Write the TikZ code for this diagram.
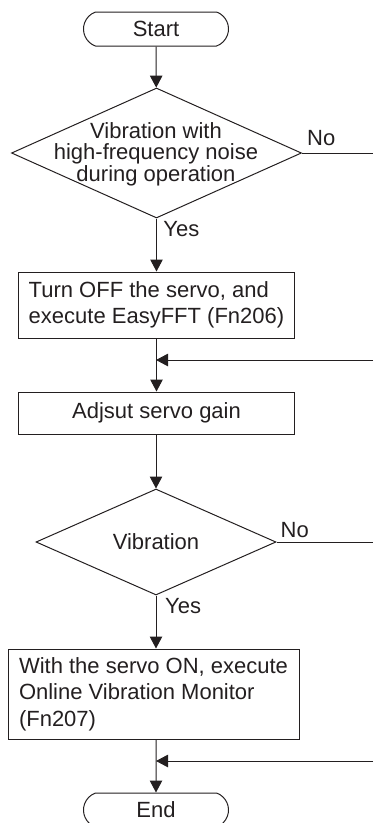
\documentclass[tikz,border=0pt]{standalone}
\usepackage{fontspec}
\setmainfont{Liberation Sans}
\usetikzlibrary{arrows.meta,calc,positioning}
\usetikzlibrary{shapes.geometric,shapes.misc}
\definecolor{ink}{RGB}{35,31,32}

\begin{document}
\begin{tikzpicture}[x=1pt,y=1pt,
every node/.style={font=\fontsize{22}{26}\selectfont,text=ink,inner sep=0pt},
terminal/.style={rounded rectangle,rounded rectangle arc length=140,draw=ink,line width=1pt,minimum width=145pt,minimum height=34pt},
process/.style={rectangle,draw=ink,line width=1pt,align=left},
decision/.style={diamond,shape aspect=2.26,draw=ink,line width=1pt},
flowarrow/.style={draw=ink,line width=1pt,-{Triangle[length=12pt,width=12.5pt]}},
flowline/.style={draw=ink,line width=1pt}]
\useasboundingbox (0,0) rectangle (373,-823);
\clip (0,0) rectangle (373,-823);
% blocks
\node[terminal] (start) at (156,-29) {Start};
\node[decision,minimum width=290pt,minimum height=130pt] (d1) at (156.5,-153) {};
\node[align=center,font=\fontsize{22}{21.5}\selectfont] (d1txt) at (156,-154) {Vibration with\\high-frequency noise\\during operation};
\node[process,minimum width=276pt,minimum height=66pt] (b1) at (156.5,-305) {Turn OFF the servo, and\\execute EasyFFT (Fn206)};
\node[process,minimum width=276pt,minimum height=42pt] (b2) at (156.5,-413) {Adjsut servo gain};
\node[decision,minimum width=240pt,minimum height=106pt] (d2) at (156,-542) {Vibration};
\node[process,minimum width=291pt,minimum height=90pt,font=\fontsize{22}{26.5}\selectfont] (b3) at (153.5,-694) {With the servo ON, execute\\Online Vibration Monitor\\(Fn207)};
\node[terminal] (stop) at (156,-810) {End};
% yes / no
\node[anchor=base west] (no1) at ($(d1.east)+(5,7.6)$) {No};
\node[anchor=base west] (yes1) at ($(d1.south)+(6.7,-18)$) {Yes};
\node[anchor=base west] (no2) at ($(d2.east)+(4,5)$) {No};
\node[anchor=base west] (yes2) at ($(d2.south)+(9,-17.7)$) {Yes};
% loose ends on the right
\coordinate (n1) at (373,-153);
\coordinate (n2) at (373,-542);
\coordinate (r1) at (373,-360);
\coordinate (j1) at (156,-360);
\coordinate (r2) at (373,-761);
\coordinate (j2) at (156,-761);
% connectors
\draw[flowarrow] (start) -- (d1);
\draw[flowarrow] (d1) -- (b1);
\draw[flowarrow] (b1.south -| d1.south) -- (b2.north -| d1.south);
\draw[flowarrow] (b2.south -| d2.north) -- (d2);
\draw[flowarrow] (d2.south) -- (d2.south |- b3.north);
\draw[flowarrow] (stop.north |- b3.south) -- (stop);
\draw[flowline] (d1.east) -- (n1);
\draw[flowline] (d2.east) -- (n2);
\draw[flowarrow] (r1) -- (j1);
\draw[flowarrow] (r2) -- (j2);
\end{tikzpicture}
\end{document}
